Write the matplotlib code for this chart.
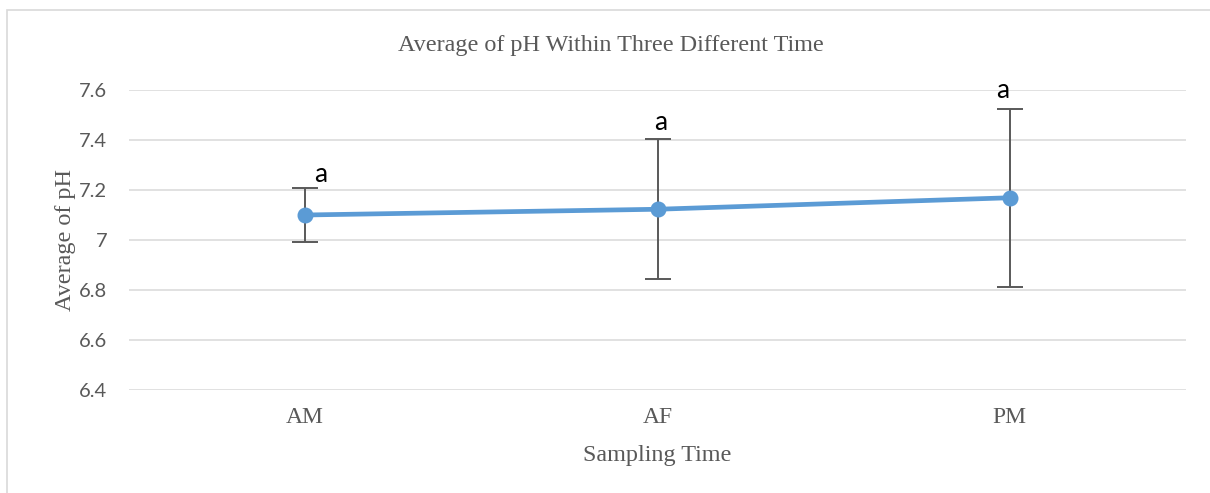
import matplotlib
matplotlib.use("Agg")
import matplotlib.pyplot as plt
from matplotlib.patches import Rectangle

categories = ["AM", "AF", "PM"]
means = [7.10, 7.123, 7.169]
errors = [0.108, 0.28, 0.355]
letters = ["a", "a", "a"]
yticks = [6.4, 6.6, 6.8, 7.0, 7.2, 7.4, 7.6]
ytick_labels = ["6.4", "6.6", "6.8", "7", "7.2", "7.4", "7.6"]

# label placement offsets (points) relative to the top of each error bar
label_dx = [11, 2, -5]
label_dy = [11.5, 14, 15]

W, H = 1210, 493
fig = plt.figure(figsize=(W / 100, H / 100), dpi=100)
fig.patch.set_facecolor("white")

# outer chart border
fig.patches.append(Rectangle((7 / W, -0.01), 1.0, (H - 10) / H + 0.01,
                             transform=fig.transFigure, fill=False,
                             edgecolor="#D9D9D9", linewidth=1.2))

ax = fig.add_axes([129 / W, (H - 390) / H, (1186 - 129) / W, 300 / H])
x = list(range(len(categories)))
ax.errorbar(x, means, yerr=errors, fmt="none", ecolor="#595959",
            elinewidth=1.4, capsize=9.5, capthick=1.4, zorder=3)
ax.plot(x, means, color="#5B9BD5", linewidth=3.4, marker="o",
        markersize=10.5, zorder=4, solid_capstyle="round")

for xi, m, e, lab, dx, dy in zip(x, means, errors, letters, label_dx, label_dy):
    ax.annotate(lab, xy=(xi, m + e), xytext=(dx, dy), textcoords="offset points",
                ha="center", va="center_baseline", fontsize=19, family="Lato",
                color="black", annotation_clip=False)

ax.set_xlim(-0.5, len(categories) - 0.5)
ax.set_ylim(6.4, 7.6)
ax.set_yticks(yticks)
ax.set_yticklabels(ytick_labels, family="Lato", fontsize=14.5, color="#595959")
ax.set_xticks(x)
ax.set_xticklabels(categories, family="Liberation Serif", fontsize=17, color="#595959")
ax.tick_params(axis="both", length=0)
ax.tick_params(axis="y", pad=15.5)
ax.tick_params(axis="x", pad=12)
ax.grid(axis="y", color="#D9D9D9", linewidth=1.1)
ax.set_axisbelow(True)
for s in ax.spines.values():
    s.set_visible(False)

fig.text(611 / W, (H - 45) / H, "Average of pH Within Three Different Time",
         ha="center", va="center", family="Liberation Serif", fontsize=17.4,
         color="#595959")
fig.text(657 / W, (H - 455) / H, "Sampling Time", ha="center", va="center",
         family="Liberation Serif", fontsize=17.4, color="#595959")
fig.text(65 / W, (H - 240) / H, "Average of pH", ha="center", va="center",
         rotation=90, family="Liberation Serif", fontsize=17.4, color="#595959")

fig.savefig("out.png", dpi=100, facecolor="white")
